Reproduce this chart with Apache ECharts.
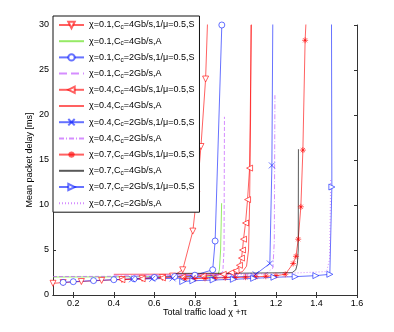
<!DOCTYPE html>
<html><head><meta charset="utf-8">
<script src="https://cdn.jsdelivr.net/npm/echarts@6/dist/echarts.min.js"></script>
<style>html,body{margin:0;padding:0;background:#fff}#c{width:394px;height:332px}</style>
</head><body><div id="c"></div>
<script>
var names = [
  'χ=0.1,Cc=4Gb/s,1/μ=0.5,S','χ=0.1,Cc=4Gb/s,A','χ=0.1,Cc=2Gb/s,1/μ=0.5,S','χ=0.1,Cc=2Gb/s,A',
  'χ=0.4,Cc=4Gb/s,1/μ=0.5,S','χ=0.4,Cc=4Gb/s,A','χ=0.4,Cc=2Gb/s,1/μ=0.5,S','χ=0.4,Cc=2Gb/s,A',
  'χ=0.7,Cc=4Gb/s,1/μ=0.5,S','χ=0.7,Cc=4Gb/s,A','χ=0.7,Cc=2Gb/s,1/μ=0.5,S','χ=0.7,Cc=2Gb/s,A'
];
var xTicks = [0.2,0.4,0.6,0.8,1,1.2,1.4,1.6];
var yTicks = [0,5,10,15,20,25,30];

var s1 = [[0.1,1.3],[0.15,1.38],[0.24,1.5],[0.34,1.62],[0.44,1.72],[0.54,1.85],[0.64,1.95],[0.69,2.1],[0.74,2.8],[0.79,7.1],[0.81,11.2],[0.83,16.5],[0.853,24],[0.868,34]];
var s2 = [[0.1,2.0],[0.5,2.02],[0.9,2.1],[0.915,2.3],[0.921,2.8],[0.927,5],[0.932,10.2]];
var s3 = [[0.15,1.4],[0.2,1.48],[0.3,1.6],[0.4,1.7],[0.5,1.8],[0.6,1.95],[0.7,2.05],[0.8,2.2],[0.888,2.8],[0.9,6],[0.933,30]];
var s4 = [[0.1,2.05],[0.5,2.08],[0.92,2.2],[0.938,2.6],[0.944,5],[0.946,19.8]];
var s5 = [[0.44,1.7],[0.54,1.8],[0.64,1.9],[0.74,2.0],[0.84,2.1],[0.94,2.3],[0.98,2.5],[1.003,2.7],[1.02,3.3],[1.03,4.1],[1.035,5.0],[1.04,6.2],[1.05,8.0],[1.06,10.6],[1.07,14.1],[1.08,32]];
var s6 = [[0.4,2.3],[0.7,2.32],[1.0,2.36],[1.035,2.6],[1.055,3.2],[1.065,5],[1.07,10],[1.075,20],[1.077,30]];
var s7 = [[0.49,1.75],[0.59,1.8],[0.69,1.85],[0.79,1.9],[0.89,1.95],[0.99,2.0],[1.09,2.1],[1.1,2.3],[1.17,3.5],[1.18,14.4],[1.185,32]];
var s8 = [[0.4,2.2],[0.8,2.25],[1.15,2.35],[1.185,3],[1.192,6],[1.195,22.2]];
var s9 = [[0.75,1.8],[0.8,1.82],[0.85,1.85],[0.9,1.88],[0.95,1.92],[1.0,1.95],[1.05,1.98],[1.1,2.02],[1.15,2.08],[1.2,2.15],[1.246,2.3],[1.285,3.5],[1.299,4.3],[1.31,6.2],[1.323,9.8],[1.333,16.1],[1.344,28.3],[1.352,32]];
var s10 = [[0.7,2.4],[1.0,2.42],[1.28,2.48],[1.298,2.8],[1.306,3.5],[1.31,5],[1.311,16.2]];
var s11 = [[0.74,1.5],[0.79,1.58],[0.89,1.67],[0.99,1.74],[1.09,1.85],[1.19,1.97],[1.295,2.04],[1.397,2.15],[1.466,2.3],[1.476,12],[1.474,32]];
var s12 = [[0.7,2.3],[1.2,2.35],[1.45,2.6],[1.465,4],[1.47,13]];

var RED = 'rgba(255,0,0,0.62)', GREEN = 'rgba(80,220,0,0.6)', BLUE = 'rgba(0,20,255,0.6)', VIO = 'rgba(190,80,255,0.65)', GRAY = 'rgba(0,0,0,0.65)';
var crossPath = 'path://M0,0L10,10M10,0L0,10';
var starPath = 'path://M5,0L5,10M0,5L10,5M1.5,1.5L8.5,8.5M8.5,1.5L1.5,8.5';

var specs = [
  {d:s1, c:RED, sym:'triangle', rot:180},
  {d:s2, c:GREEN},
  {d:s3, c:BLUE, sym:'circle'},
  {d:s4, c:VIO, type:'dashed'},
  {d:s5, c:RED, sym:'triangle', rot:90},
  {d:s6, c:RED},
  {d:s7, c:BLUE, sym:crossPath, fillc:true},
  {d:s8, c:VIO, type:[5,2,1,2]},
  {d:s9, c:RED, sym:starPath, fillc:true},
  {d:s10, c:GRAY},
  {d:s11, c:BLUE, sym:'triangle', rot:-90},
  {d:s12, c:VIO, type:[1,2]}
];

var series = specs.map(function(s, i){
  return {
    name: names[i], type: 'line', data: s.d, clip: true,
    symbol: s.sym || 'none', symbolSize: 6, symbolRotate: s.rot || 0, showSymbol: !!s.sym,
    lineStyle: {color: s.c, width: 1, type: s.type || 'solid'},
    itemStyle: {color: s.fillc ? s.c : '#fff', borderColor: s.c, borderWidth: 1},
    emphasis: {disabled: true}, animation: false, z: 2
  };
});

var legendData = specs.map(function(s, i){
  var o = {name: names[i]};
  if (!s.sym) o.itemStyle = {opacity: 0};
  return o;
});

var chart = echarts.init(document.getElementById('c'), null, {renderer: 'canvas'});
var FONT = 'Liberation Sans';
var axisLineStyle = {color: '#333', width: 1};
chart.setOption({
  animation: false,
  textStyle: {fontFamily: FONT},
  grid: {left: 53, right: 37, top: 25, bottom: 37},
  xAxis: [{
    type: 'value', min: 0.1, max: 1.6, position: 'bottom',
    name: 'Total traffic load χ +π', nameLocation: 'middle', nameGap: 13, nameMoveOverlap: false,
    nameTextStyle: {fontSize: 9, color: '#000', fontFamily: FONT, verticalAlign: 'top'},
    axisLine: {show: true, lineStyle: axisLineStyle},
    axisTick: {show: true, inside: true, length: 3, customValues: xTicks, lineStyle: axisLineStyle},
    axisLabel: {customValues: xTicks, fontSize: 9, color: '#000', margin: 4, fontFamily: FONT},
    splitLine: {show: false}
  },{
    type: 'value', min: 0.1, max: 1.6, position: 'top',
    axisLine: {show: true, lineStyle: axisLineStyle},
    axisTick: {show: true, inside: true, length: 3, customValues: xTicks, lineStyle: axisLineStyle},
    axisLabel: {show: false}, splitLine: {show: false}
  }],
  yAxis: [{
    type: 'value', min: 0, max: 30, interval: 5, position: 'left',
    name: 'Mean packet delay [ms]', nameLocation: 'middle', nameGap: 19, nameRotate: 90, nameMoveOverlap: false,
    nameTextStyle: {fontSize: 9, color: '#000', fontFamily: FONT},
    axisLine: {show: true, lineStyle: axisLineStyle},
    axisTick: {show: true, inside: true, length: 3, lineStyle: axisLineStyle},
    axisLabel: {fontSize: 9, color: '#000', margin: 4, fontFamily: FONT},
    splitLine: {show: false}
  },{
    type: 'value', min: 0, max: 30, interval: 5, position: 'right',
    axisLine: {show: true, lineStyle: axisLineStyle},
    axisTick: {show: true, inside: true, length: 3, lineStyle: axisLineStyle},
    axisLabel: {show: false}, splitLine: {show: false}
  }],
  legend: {
    orient: 'vertical', left: 53, top: 16, z: 10,
    backgroundColor: '#fff', borderColor: '#111', borderWidth: 1,
    padding: [3, 5, 3, 5], itemWidth: 25, itemHeight: 8, itemGap: 4.2,
    data: legendData, selectedMode: false,
    formatter: function(n){ return n.replace('Cc', 'C{s|c}'); },
    textStyle: {fontSize: 9, color: '#000', fontFamily: FONT, lineHeight: 10,
      rich: {s: {fontSize: 6.5, fontFamily: FONT, color: '#000', padding: [5, 0, 0, 0], lineHeight: 10}}}
  },
  series: series
});
</script></body></html>
